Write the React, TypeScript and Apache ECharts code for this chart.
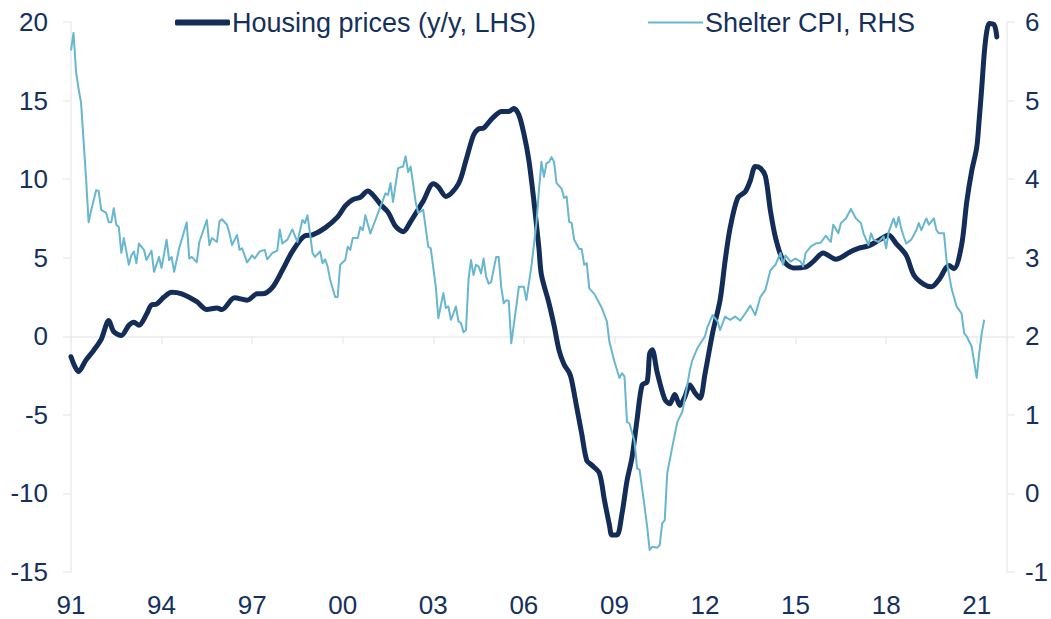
import React, { useEffect, useRef } from "react";
import * as echarts from "echarts";

// x positions: months since January 1991
const housingMonth = [0, 3, 6, 9, 12, 15, 17, 20, 23, 25, 27, 30, 32, 34, 37, 40, 44, 50, 54, 58, 60, 65, 70, 74, 76, 80, 84, 88, 93, 96, 101, 106, 109, 112, 115, 118, 120, 123, 126, 129, 132, 135, 140, 144, 146, 149, 154, 157, 160, 162, 164, 167, 169, 171, 174, 176, 178, 180, 182, 184, 186, 187, 190, 192, 194, 196, 198, 199, 201, 203, 205, 207, 210, 212, 214, 215, 217, 219, 221, 223, 225, 227, 229, 230, 231, 233, 236, 238, 240, 242, 244, 246, 248, 250, 252, 255, 258, 260, 262, 265, 268, 270, 272, 274, 276, 278, 280, 283, 287, 292, 295, 299, 304, 310, 313, 317, 321, 325, 328, 332, 335, 339, 342, 345, 349, 351, 354, 356, 358, 360, 361, 362, 363, 364, 365, 367, 368];
const housingValue = [-1.3, -2.25, -1.5, -0.9, -0.2, 1.0, 0.3, 0.05, 0.7, 0.9, 0.7, 1.4, 2.0, 2.05, 2.5, 2.8, 2.7, 2.2, 1.7, 1.8, 1.7, 2.45, 2.3, 2.7, 2.7, 3.1, 4.2, 5.4, 6.4, 6.45, 6.9, 7.6, 8.3, 8.7, 8.85, 9.25, 9.0, 8.4, 7.9, 7.0, 6.65, 7.3, 8.6, 9.7, 9.5, 8.9, 9.7, 11.2, 12.8, 13.2, 13.25, 13.8, 14.1, 14.3, 14.3, 14.5, 14.1, 12.9, 11.2, 8.6, 5.6, 3.9, 2.1, 0.7, -0.9, -1.8, -2.3, -2.8, -4.5, -6.2, -7.9, -8.2, -8.7, -10.4, -12.0, -12.65, -12.65, -11.3, -9.2, -7.7, -5.3, -3.1, -2.9, -1.1, -0.85, -2.3, -4.0, -4.3, -3.7, -4.4, -3.85, -3.1, -3.6, -3.95, -2.4, 0.2, 2.3, 4.8, 6.9, 8.8, 9.2, 9.9, 10.8, 10.7, 10.2, 8.0, 6.3, 4.85, 4.35, 4.4, 4.75, 5.3, 4.9, 5.4, 5.6, 5.75, 6.1, 6.45, 5.9, 5.15, 3.9, 3.3, 3.15, 3.6, 4.5, 4.3, 5.8, 8.5, 10.5, 12.0, 13.8, 15.8, 18.0, 19.4, 19.9, 19.8, 19.05];

const shelterMonth = [0, 1, 2, 3, 4, 6, 7, 8, 10, 11, 12, 14, 15, 16, 17, 18, 19, 20, 21, 23, 24, 25, 26, 27, 29, 30, 32, 33, 35, 36, 38, 39, 40, 41, 43, 46, 47, 48, 50, 51, 54, 55, 56, 58, 59, 60, 62, 63, 64, 66, 67, 68, 70, 72, 73, 75, 77, 78, 80, 82, 83, 84, 86, 88, 90, 92, 93, 94, 95, 96, 97, 99, 100, 101, 102, 103, 105, 106, 107, 109, 110, 111, 112, 114, 115, 116, 117, 119, 121, 123, 125, 126, 127, 128, 130, 132, 133, 134, 135, 137, 138, 140, 142, 143, 145, 146, 148, 149, 150, 151, 152, 153, 154, 155, 156, 157, 158, 159, 160, 161, 162, 163, 164, 165, 166, 167, 169, 170, 171, 172, 173, 174, 175, 177, 178, 180, 181, 183, 185, 186, 187, 188, 189, 190, 191, 192, 193, 195, 196, 197, 198, 199, 200, 202, 203, 204, 205, 206, 208, 210, 211, 213, 214, 216, 218, 219, 220, 221, 222, 224, 225, 226, 228, 229, 230, 231, 233, 234, 235, 236, 237, 239, 241, 243, 244, 246, 247, 249, 252, 253, 255, 257, 258, 260, 262, 264, 266, 268, 270, 272, 274, 276, 278, 280, 282, 283, 284, 286, 288, 290, 291, 292, 294, 296, 298, 300, 302, 303, 305, 306, 308, 310, 312, 314, 315, 317, 318, 319, 321, 323, 324, 325, 327, 328, 329, 330, 331, 332, 334, 336, 337, 338, 340, 341, 343, 344, 345, 347, 348, 350, 352, 354, 355, 356, 358, 360, 361, 362, 363];
const shelterValue = [5.64, 5.86, 5.37, 5.15, 4.97, 4.0, 3.45, 3.6, 3.86, 3.85, 3.61, 3.57, 3.45, 3.45, 3.63, 3.42, 3.39, 3.06, 3.25, 2.91, 3.03, 3.08, 2.93, 3.18, 3.1, 2.97, 3.09, 2.82, 3.01, 2.87, 3.23, 2.97, 3.01, 2.82, 3.12, 3.45, 2.99, 3.01, 2.94, 3.2, 3.48, 3.16, 3.25, 3.2, 3.46, 3.49, 3.42, 3.31, 3.16, 3.29, 3.1, 3.12, 2.94, 3.03, 2.99, 3.08, 3.1, 2.98, 3.06, 3.09, 3.36, 3.18, 3.23, 3.36, 3.2, 3.48, 3.44, 3.54, 3.31, 3.06, 3.01, 3.08, 2.93, 2.98, 2.89, 2.72, 2.5, 2.5, 2.91, 2.97, 3.14, 3.1, 3.25, 3.25, 3.39, 3.35, 3.54, 3.31, 3.48, 3.65, 3.82, 3.8, 3.95, 3.71, 4.14, 4.16, 4.29, 4.09, 4.16, 3.71, 3.57, 3.61, 3.14, 3.12, 2.63, 2.23, 2.55, 2.36, 2.38, 2.21, 2.29, 2.38, 2.19, 2.17, 2.05, 2.08, 2.72, 2.97, 2.78, 2.91, 2.89, 2.8, 2.99, 2.76, 2.67, 2.69, 3.01, 3.01, 2.63, 2.42, 2.46, 2.45, 1.91, 2.38, 2.63, 2.63, 2.46, 2.89, 3.44, 3.86, 4.22, 4.03, 4.2, 4.22, 4.28, 4.22, 3.95, 3.88, 3.76, 3.78, 3.46, 3.44, 3.23, 3.11, 3.11, 2.91, 2.93, 2.61, 2.54, 2.42, 2.36, 2.19, 1.93, 1.68, 1.47, 1.53, 1.49, 0.91, 0.89, 0.66, 0.32, 0.3, -0.17, -0.42, -0.72, -0.68, -0.69, -0.66, -0.38, -0.34, 0.26, 0.59, 0.91, 1.04, 1.21, 1.57, 1.7, 1.85, 2.0, 2.12, 2.27, 2.19, 2.08, 2.25, 2.21, 2.25, 2.2, 2.29, 2.39, 2.27, 2.5, 2.59, 2.84, 2.91, 3.06, 2.91, 3.03, 2.95, 2.99, 2.95, 2.89, 3.06, 3.14, 3.18, 3.19, 3.28, 3.2, 3.42, 3.31, 3.44, 3.5, 3.62, 3.5, 3.44, 3.31, 3.16, 3.31, 3.23, 3.2, 3.27, 3.12, 3.33, 3.5, 3.39, 3.52, 3.37, 3.27, 3.18, 3.23, 3.35, 3.44, 3.35, 3.5, 3.42, 3.5, 3.35, 3.31, 3.31, 2.97, 2.61, 2.38, 2.29, 2.04, 2.0, 1.87, 1.47, 1.78, 2.04, 2.21];

const xTickStepMonths = 36;
const xMaxMonths = 372;
const leftTicks = { min: -15, max: 20, step: 5 };
const rightTicks = { min: -1, max: 6, step: 1 };
const seriesNames = ["Housing prices (y/y, LHS)", "Shelter CPI, RHS"];

const TEXT = "#15305c";
const AXIS = "#ececec";
const HOUSING = "#142d58";
const SHELTER = "#68b6cf";
const FONT = "'Liberation Sans', Arial, Helvetica, sans-serif";

export default function App() {
  const ref = useRef<HTMLDivElement>(null);
  useEffect(() => {
    if (!ref.current) return;
    const chart = echarts.init(ref.current, undefined, { renderer: "svg" });
    const housing = housingMonth.map((m, i) => [m, housingValue[i]]);
    const shelter = shelterMonth.map((m, i) => [m, shelterValue[i]]);
    const yAxisCommon = {
      type: "value" as const,
      splitLine: { show: false },
      axisLine: { show: true, lineStyle: { color: AXIS, width: 1.5 } },
      axisTick: { show: true, length: 8, lineStyle: { color: AXIS, width: 1.5 } },
    };
    const legendText = { fontSize: 27, color: TEXT, fontFamily: FONT };
    chart.setOption({
      animation: false,
      textStyle: { fontFamily: FONT },
      grid: { left: 71, right: 44, top: 22, bottom: 47, containLabel: false },
      legend: [
        {
          left: 175,
          top: 9,
          padding: 0,
          itemWidth: 55,
          itemHeight: 6,
          itemGap: 10,
          icon: "roundRect",
          textStyle: { ...legendText, padding: [0, 0, 0, -3] },
          data: [seriesNames[0]],
        },
        {
          left: 648,
          top: 9,
          padding: 0,
          itemWidth: 55,
          itemHeight: 2,
          itemGap: 10,
          icon: "rect",
          textStyle: { ...legendText, padding: [0, 0, 0, -3] },
          data: [seriesNames[1]],
        },
      ],
      xAxis: {
        type: "value",
        min: 0,
        max: xMaxMonths,
        interval: xTickStepMonths,
        splitLine: { show: false },
        axisLine: { show: true, lineStyle: { color: AXIS, width: 1.5 } },
        axisTick: { show: true, length: 8, lineStyle: { color: AXIS, width: 1.5 } },
        axisLabel: {
          margin: 20,
          fontSize: 26,
          color: TEXT,
          fontFamily: FONT,
          formatter: (v: number) => {
            if (v % xTickStepMonths !== 0) return "";
            const yy = (91 + v / 12) % 100;
            return String(yy).padStart(2, "0");
          },
        },
      },
      yAxis: [
        {
          ...yAxisCommon,
          min: leftTicks.min,
          max: leftTicks.max,
          interval: leftTicks.step,
          position: "left",
          axisLabel: { margin: 23, fontSize: 26, color: TEXT, fontFamily: FONT },
        },
        {
          ...yAxisCommon,
          min: rightTicks.min,
          max: rightTicks.max,
          interval: rightTicks.step,
          position: "right",
          axisLabel: { margin: 18, fontSize: 26, color: TEXT, fontFamily: FONT },
        },
      ],
      series: [
        {
          name: seriesNames[0],
          type: "line",
          yAxisIndex: 0,
          data: housing,
          showSymbol: false,
          symbol: "none",
          smooth: 0.3,
          color: HOUSING,
          lineStyle: { width: 5, color: HOUSING, cap: "round", join: "round" },
          z: 2,
        },
        {
          name: seriesNames[1],
          type: "line",
          yAxisIndex: 1,
          data: shelter,
          showSymbol: false,
          symbol: "none",
          color: SHELTER,
          lineStyle: { width: 2, color: SHELTER, join: "round" },
          z: 3,
        },
      ],
    });
    return () => chart.dispose();
  }, []);
  return (
    <div
      ref={ref}
      style={{ position: "absolute", left: 0, top: 0, width: 1051, height: 619, background: "#ffffff" }}
    />
  );
}
